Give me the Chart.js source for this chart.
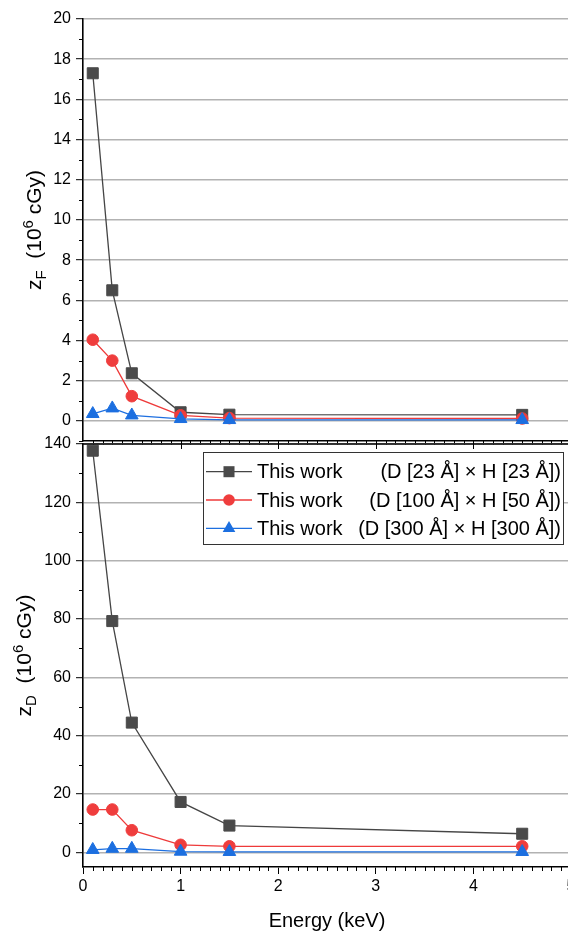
<!DOCTYPE html>
<html>
<head>
<meta charset="utf-8">
<script src="https://cdn.jsdelivr.net/npm/chart.js@4.4.1/dist/chart.umd.min.js"></script>
<style>
  html, body { margin: 0; padding: 0; background: #fff; overflow: hidden; }
  #wrap { position: relative; width: 568px; height: 933px; overflow: hidden; }
  canvas { position: absolute; left: 0; }
  #topChart { top: 0; }
  #bottomChart { top: 420px; }
</style>
</head>
<body>
<div id="wrap">
  <canvas id="topChart" width="580" height="462"></canvas>
  <canvas id="bottomChart" width="580" height="513"></canvas>
</div>
<script>
// values
const energy = [0.1, 0.3, 0.5, 1.0, 1.5, 4.5];

const zF23 = [17.3, 6.5, 2.37, 0.43, 0.31, 0.3];
const zF100 = [4.04, 3.0, 1.23, 0.28, 0.14, 0.12];
const zF300 = [0.35, 0.63, 0.28, 0.1, 0.05, 0.05];

const zD23 = [137.7, 79.3, 44.5, 17.3, 9.2, 6.4];
const zD100 = [14.7, 14.7, 7.6, 2.6, 2.1, 2.1];
const zD300 = [0.9, 1.3, 1.3, 0.3, 0.2, 0.2];

const seriesNames = ["This work", "This work", "This work"];
const seriesSizes = ["(D [23 Å] × H [23 Å])", "(D [100 Å] × H [50 Å])", "(D [300 Å] × H [300 Å])"];

const xTicks = [0, 1, 2, 3, 4, 5];
const zFTicks = [0, 2, 4, 6, 8, 10, 12, 14, 16, 18, 20];
const zDTicks = [0, 20, 40, 60, 80, 100, 120, 140];

const FONT = "'Liberation Sans', Arial, Helvetica, sans-serif";

const looks = [
  { line: "#454545", fill: "#4a4a4a", shape: "rect", r: 7.8, order: 2 },
  { line: "#ee3a3a", fill: "#ef3d3d", shape: "circle", r: 5.8, order: 1 },
  { line: "#1d6fe0", fill: "#1c6fe0", shape: "triangle", r: 7.3, order: 0 },
];

function makeDatasets(list) {
  return list.map((vals, i) => ({
    label: seriesNames[i] + " " + seriesSizes[i],
    data: energy.map((x, j) => ({ x: x, y: vals[j] })),
    borderColor: looks[i].line,
    backgroundColor: looks[i].fill,
    borderWidth: 1.3,
    pointStyle: looks[i].shape,
    pointRadius: looks[i].r,
    pointBorderWidth: 1,
    pointBorderColor: looks[i].fill,
    pointBackgroundColor: looks[i].fill,
    tension: 0,
    clip: false,
    order: looks[i].order,
  }));
}

// minor ticks, frame pieces
const axisDecor = {
  id: "axisDecor",
  afterDraw(chart, args, o) {
    const { ctx, chartArea: a, scales } = chart;
    const x = scales.x, y = scales.y;
    ctx.save();
    ctx.strokeStyle = "#000";
    ctx.lineWidth = 1;
    ctx.beginPath();
    const yt = o.yTicks;
    for (let i = 0; i < yt.length - 1; i++) {
      const py = Math.round(y.getPixelForValue((yt[i] + yt[i + 1]) / 2)) + 0.5;
      ctx.moveTo(a.left - 4, py);
      ctx.lineTo(a.left, py);
    }
    for (let i = 1; i < 50; i++) {
      if (i % 10 === 0) continue;
      const px = Math.round(x.getPixelForValue(i / 10)) + 0.5;
      ctx.moveTo(px, a.bottom);
      ctx.lineTo(px, a.bottom + o.xMinorDown);
    }
    ctx.stroke();
    if (o.topFrame) {
      ctx.lineWidth = 1.6;
      ctx.beginPath();
      ctx.moveTo(a.left, a.top);
      ctx.lineTo(a.right, a.top);
      ctx.stroke();
      ctx.lineWidth = 1;
      ctx.beginPath();
      for (let i = 1; i < 5; i++) {
        const px = Math.round(x.getPixelForValue(i)) + 0.5;
        ctx.moveTo(px, a.top - 3.5);
        ctx.lineTo(px, a.top + 5);
      }
      ctx.stroke();
    }
    ctx.restore();
  },
};

// rotated y title with sub/superscript
const yTitle = {
  id: "yTitle",
  afterDraw(chart, args, o) {
    const { ctx, chartArea: a } = chart;
    const parts = [["z", 21, 0], [o.sub, 15, 5], ["  (10", 21, 0], ["6", 15, -8], [" cGy)", 21, 0]];
    ctx.save();
    ctx.translate(o.x, (a.top + a.bottom) / 2);
    ctx.rotate(-Math.PI / 2);
    ctx.fillStyle = "#000";
    ctx.textBaseline = "alphabetic";
    let total = 0;
    parts.forEach((p) => {
      ctx.font = p[1] + "px " + FONT;
      total += ctx.measureText(p[0]).width;
    });
    let cx = -total / 2;
    parts.forEach((p) => {
      ctx.font = p[1] + "px " + FONT;
      ctx.fillText(p[0], cx, p[2]);
      cx += ctx.measureText(p[0]).width;
    });
    ctx.restore();
  },
};

function drawMarker(ctx, shape, cx, cy, r, color) {
  ctx.fillStyle = color;
  ctx.beginPath();
  if (shape === "rect") {
    const s = r * Math.SQRT1_2;
    ctx.rect(cx - s, cy - s, 2 * s, 2 * s);
  } else if (shape === "circle") {
    ctx.arc(cx, cy, r, 0, Math.PI * 2);
  } else {
    ctx.moveTo(cx, cy - r);
    ctx.lineTo(cx + r * Math.sin(Math.PI * 2 / 3), cy + r / 2);
    ctx.lineTo(cx - r * Math.sin(Math.PI * 2 / 3), cy + r / 2);
    ctx.closePath();
  }
  ctx.fill();
}

const boxLegend = {
  id: "boxLegend",
  afterDraw(chart, args, o) {
    const ctx = chart.ctx;
    ctx.save();
    ctx.fillStyle = "#fff";
    ctx.fillRect(o.left, o.top, o.width, o.height);
    ctx.strokeStyle = "#333";
    ctx.lineWidth = 1;
    ctx.strokeRect(o.left + 0.5, o.top + 0.5, o.width, o.height);
    ctx.font = "20px " + FONT;
    ctx.textBaseline = "middle";
    seriesNames.forEach((name, i) => {
      const ry = o.top + 19.7 + i * 28.3;
      ctx.strokeStyle = looks[i].line;
      ctx.lineWidth = 1.3;
      ctx.beginPath();
      ctx.moveTo(o.left + 3, ry);
      ctx.lineTo(o.left + 49, ry);
      ctx.stroke();
      drawMarker(ctx, looks[i].shape, o.left + 26, ry, looks[i].r, looks[i].fill);
      ctx.fillStyle = "#000";
      ctx.textAlign = "left";
      ctx.fillText(name, o.left + 54, ry + 1);
      ctx.textAlign = "right";
      ctx.fillText(seriesSizes[i], o.left + o.width - 2, ry + 1);
    });
    ctx.restore();
  },
};

function yScale(min, max, ticks) {
  return {
    type: "linear",
    min: min,
    max: max,
    afterBuildTicks: (s) => { s.ticks = ticks.map((v) => ({ value: v })); },
    afterFit: (s) => { s.width = 83; },
    ticks: { color: "#000", font: { family: FONT, size: 16 }, padding: 5 },
    grid: { color: "#b2b2b2", lineWidth: 1.4, tickColor: "#000", tickLength: 7, tickWidth: 1 },
    border: { color: "#000", width: 1.6 },
  };
}

const topChart = new Chart(document.getElementById("topChart"), {
  type: "line",
  data: { datasets: makeDatasets([zF23, zF100, zF300]) },
  options: {
    responsive: false,
    animation: false,
    devicePixelRatio: 1,
    layout: { padding: { left: 0, top: 19, right: 9, bottom: 0 } },
    plugins: {
      legend: { display: false },
      tooltip: { enabled: false },
      axisDecor: { yTicks: [-2].concat(zFTicks), xMinorDown: 3.6, topFrame: false },
      yTitle: { sub: "F", x: 41 },
    },
    scales: {
      x: {
        type: "linear",
        min: 0,
        max: 5,
        afterBuildTicks: (s) => { s.ticks = xTicks.map((v) => ({ value: v })); },
        afterFit: (s) => { s.height = 21; },
        ticks: { display: false },
        grid: { drawOnChartArea: false, drawTicks: false },
        border: { color: "#000", width: 1.6 },
      },
      y: yScale(-1, 20, zFTicks),
    },
  },
  plugins: [axisDecor, yTitle],
});

const bottomChart = new Chart(document.getElementById("bottomChart"), {
  type: "line",
  data: { datasets: makeDatasets([zD23, zD100, zD300]) },
  options: {
    responsive: false,
    animation: false,
    devicePixelRatio: 1,
    layout: { padding: { left: 0, top: 24, right: 9, bottom: 0 } },
    plugins: {
      legend: { display: false },
      tooltip: { enabled: false },
      axisDecor: { yTicks: zDTicks, xMinorDown: 4, topFrame: true },
      yTitle: { sub: "D", x: 31 },
      boxLegend: { left: 203, top: 32, width: 360, height: 92 },
    },
    scales: {
      x: {
        type: "linear",
        min: 0,
        max: 5,
        afterBuildTicks: (s) => { s.ticks = xTicks.map((v) => ({ value: v })); },
        afterFit: (s) => { s.height = 66; },
        ticks: { color: "#000", font: { family: FONT, size: 16 }, padding: 3 },
        grid: { drawOnChartArea: false, tickColor: "#000", tickLength: 7, tickWidth: 1 },
        border: { color: "#000", width: 1.6 },
        title: {
          display: true,
          text: "Energy (keV)",
          color: "#000",
          font: { family: FONT, size: 20 },
          padding: { top: 0, bottom: 0 },
        },
      },
      y: yScale(-5, 140, zDTicks),
    },
  },
  plugins: [axisDecor, yTitle, boxLegend],
});
</script>
</body>
</html>
